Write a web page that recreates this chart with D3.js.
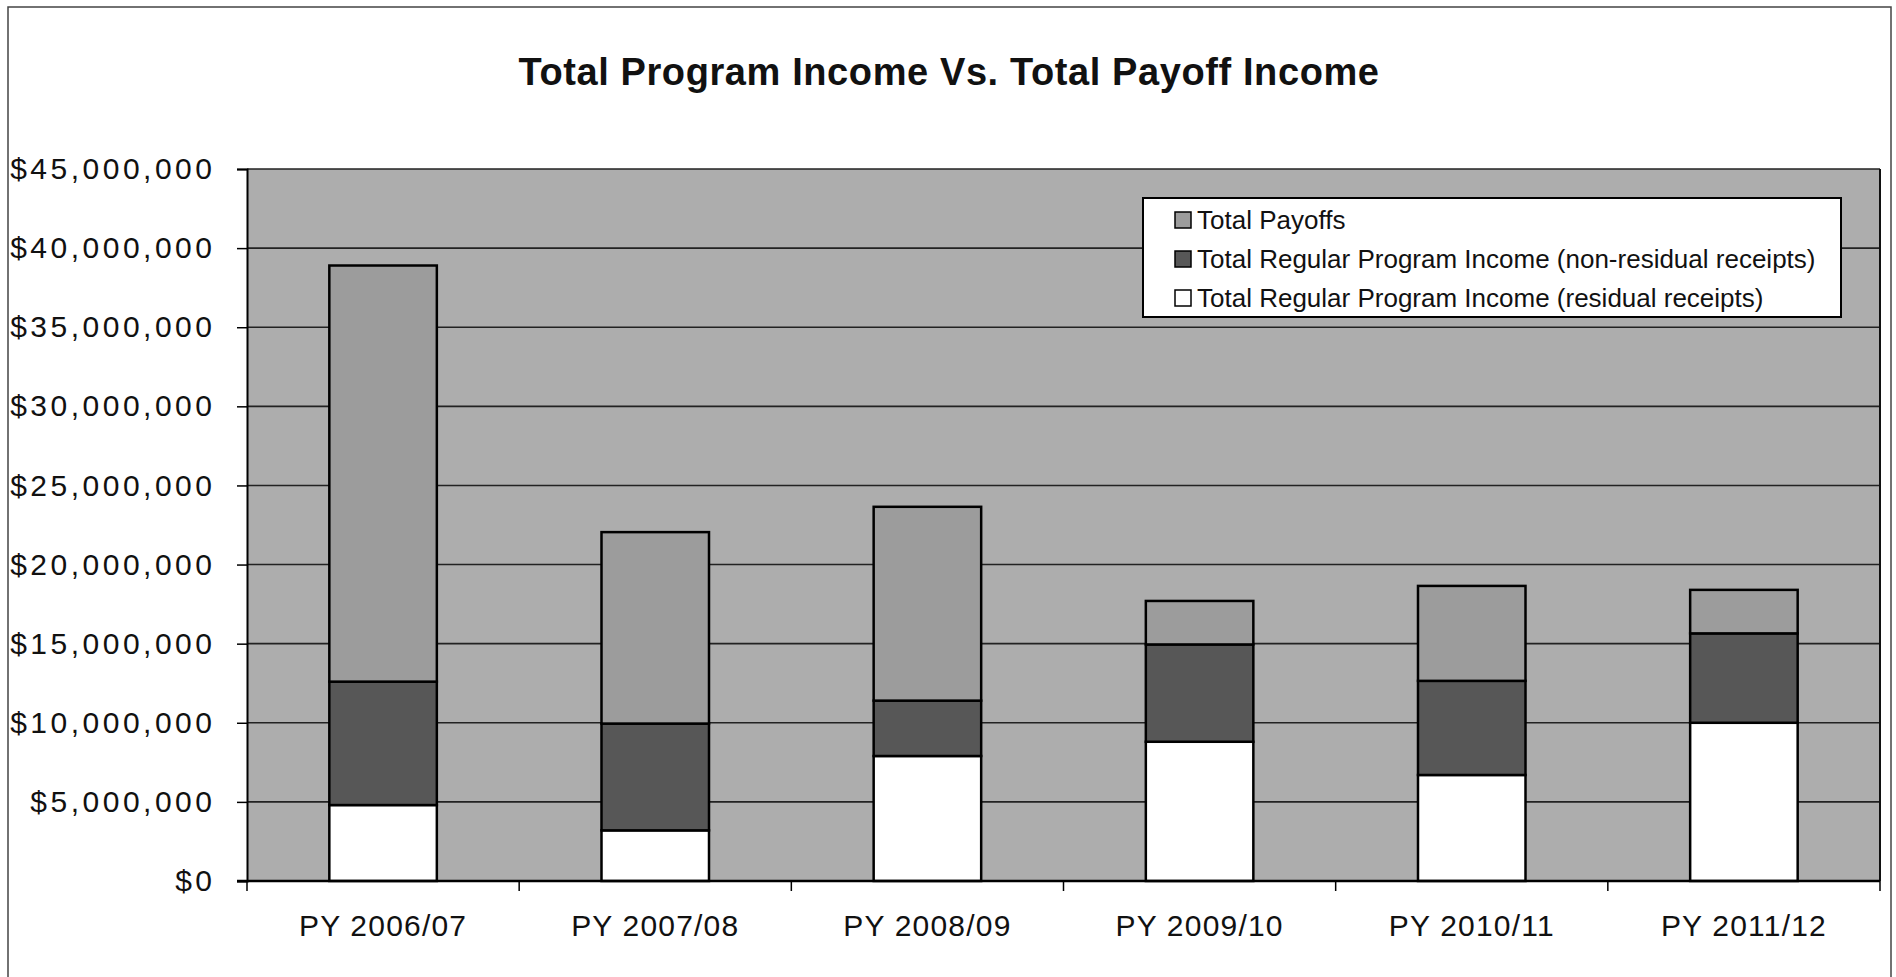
<!DOCTYPE html>
<html>
<head>
<meta charset="utf-8">
<script src="https://cdn.jsdelivr.net/npm/d3@7"></script>
<style>
  html, body { margin: 0; padding: 0; background: #ffffff; }
  svg { display: block; }
  text { font-family: "Liberation Sans", Arial, sans-serif; fill: #111; }
</style>
</head>
<body>
<svg id="chart" width="1896" height="977"></svg>
<script>
// ---- data ----
const categories = ["PY 2006/07", "PY 2007/08", "PY 2008/09", "PY 2009/10", "PY 2010/11", "PY 2011/12"];
const residualReceipts    = [4800000, 3200000, 7900000, 8800000, 6700000, 10000000];
const nonResidualReceipts = [7800000, 6750000, 3500000, 6150000, 5950000, 5650000];
const totalPayoffs        = [26300000, 12100000, 12250000, 2750000, 6000000, 2750000];
const seriesKeys   = ["residual", "nonResidual", "payoffs"];
const seriesLabels = ["Total Regular Program Income (residual receipts)",
                      "Total Regular Program Income (non-residual receipts)",
                      "Total Payoffs"];
const yTickValues = [0, 5000000, 10000000, 15000000, 20000000, 25000000, 30000000, 35000000, 40000000, 45000000];
const titleText = "Total Program Income Vs. Total Payoff Income";

// table built from arrays
const rows = categories.map((c, i) => ({
  cat: c, residual: residualReceipts[i], nonResidual: nonResidualReceipts[i], payoffs: totalPayoffs[i]
}));

const colors = { residual: "#ffffff", nonResidual: "#575757", payoffs: "#9c9c9c" };

const svg = d3.select("#chart");
const L = 247, R = 1880, T = 169, B = 881;

// outer frame
svg.append("path")
  .attr("d", `M8,977 L8,7 L1891,7 L1891,977`)
  .attr("fill", "none").attr("stroke", "#444").attr("stroke-width", 1.5);

// title
svg.append("text")
  .attr("x", 949).attr("y", 85)
  .attr("text-anchor", "middle")
  .attr("font-size", 38).attr("font-weight", "bold")
  .attr("letter-spacing", 0.6)
  .text(titleText);

const x = d3.scaleBand().domain(categories).range([L, R]).paddingInner(0.605).paddingOuter(0.3025);
const y = d3.scaleLinear().domain([0, 45000000]).range([B, T]);

// plot background
svg.append("rect").attr("x", L).attr("y", T).attr("width", R - L).attr("height", B - T)
  .attr("fill", "#adadad");

// gridlines
svg.append("g").selectAll("line").data(yTickValues.filter(v => v > 0)).join("line")
  .attr("x1", L).attr("x2", R)
  .attr("y1", d => y(d)).attr("y2", d => y(d))
  .attr("stroke", "#222").attr("stroke-width", 1.6);

// right border of plot
svg.append("line").attr("x1", R).attr("x2", R).attr("y1", T).attr("y2", B)
  .attr("stroke", "#111").attr("stroke-width", 2);

// stacked bars
const stack = d3.stack().keys(seriesKeys);
const stacked = stack(rows);
svg.append("g").selectAll("g").data(stacked).join("g")
  .attr("fill", d => colors[d.key])
  .selectAll("rect").data(d => d).join("rect")
  .attr("x", d => x(d.data.cat))
  .attr("width", x.bandwidth())
  .attr("y", d => y(d[1]))
  .attr("height", d => y(d[0]) - y(d[1]))
  .attr("stroke", "#000").attr("stroke-width", 2.5);

// y axis
const yLS = 3.5;
const yAxis = d3.axisLeft(y).tickValues(yTickValues)
  .tickFormat(d => "$" + d3.format(",")(d)).tickSize(10).tickPadding(25);
const gy = svg.append("g").attr("transform", `translate(${L},0)`).call(yAxis);
gy.select(".domain").attr("stroke", "#000").attr("stroke-width", 2);
gy.selectAll(".tick line").attr("stroke", "#000").attr("stroke-width", 1.5);
gy.selectAll("text").attr("font-size", 30).attr("fill", "#111")
  .attr("letter-spacing", yLS).attr("dx", yLS)
  .attr("font-family", "'Liberation Sans', Arial, sans-serif");

// x axis
const xAxis = d3.axisBottom(x).tickSize(0).tickPadding(34);
const gx = svg.append("g").attr("transform", `translate(0,${B})`).call(xAxis);
gx.select(".domain").remove();
gx.selectAll("text").attr("font-size", 30).attr("fill", "#111")
  .attr("letter-spacing", 1.2)
  .attr("font-family", "'Liberation Sans', Arial, sans-serif");
svg.append("line").attr("x1", L - 10).attr("x2", R).attr("y1", B).attr("y2", B)
  .attr("stroke", "#000").attr("stroke-width", 2.5);
// category boundary ticks
const boundaryX = [L].concat(categories.map(c => x(c) + x.bandwidth() + (x.step() - x.bandwidth()) / 2));
svg.append("g").selectAll("line").data(boundaryX).join("line")
  .attr("x1", d => d).attr("x2", d => d).attr("y1", B).attr("y2", B + 10)
  .attr("stroke", "#000").attr("stroke-width", 1.5);

// legend
const lg = svg.append("g");
lg.append("rect").attr("x", 1143).attr("y", 198).attr("width", 698).attr("height", 119)
  .attr("fill", "#fff").attr("stroke", "#000").attr("stroke-width", 2);
const legendOrder = ["payoffs", "nonResidual", "residual"];
const legendCenters = [220, 259, 298];
legendOrder.forEach((k, i) => {
  const cy = legendCenters[i];
  lg.append("rect").attr("x", 1175).attr("y", cy - 8).attr("width", 16).attr("height", 16)
    .attr("fill", colors[k]).attr("stroke", "#000").attr("stroke-width", 1.5);
  lg.append("text").attr("x", 1197).attr("y", cy + 9).attr("font-size", 26)
    .text(seriesLabels[seriesKeys.indexOf(k)]);
});
</script>
</body>
</html>
